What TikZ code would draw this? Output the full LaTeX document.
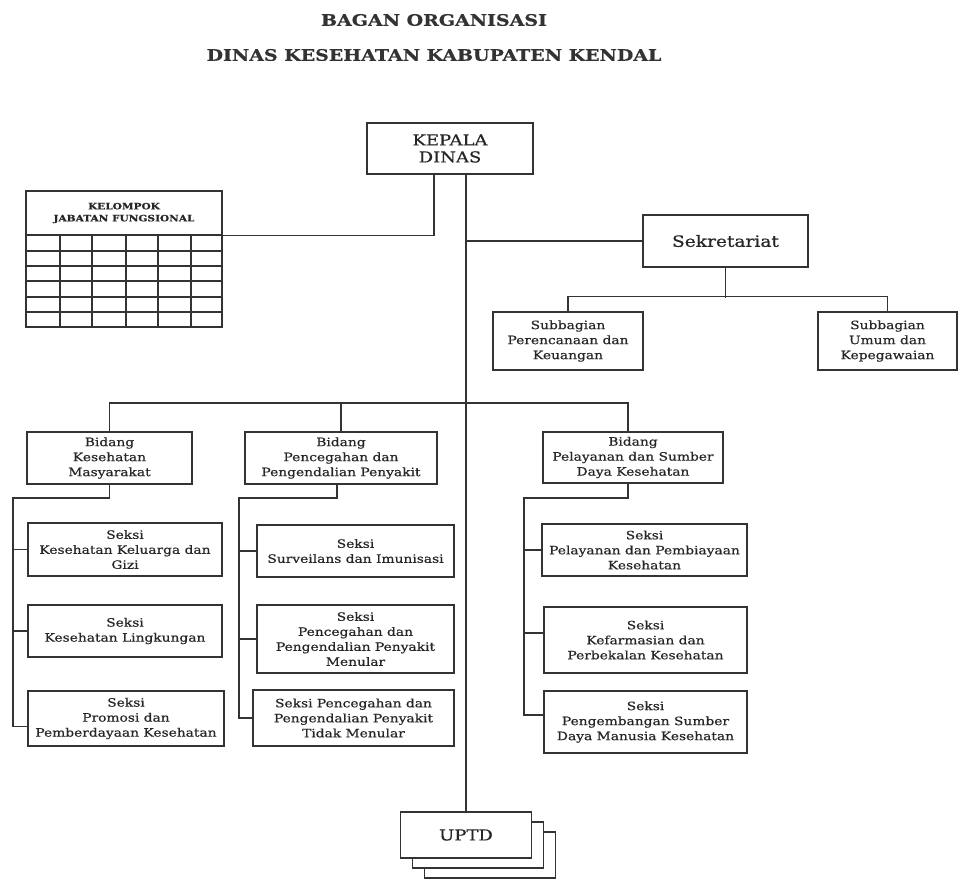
\documentclass[tikz,border=0pt]{standalone}
\usepackage{fontspec}
\setmainfont{DejaVu Serif}[FakeStretch=1.2,FakeBold=0.6]
\begin{document}
\begin{tikzpicture}[x=1pt,y=-1pt,
  ln/.style={draw=black!80,line width=1.2pt},
  box/.style={ln,rectangle,inner sep=0pt,align=center,text=black!85,fill=white,
     font=\fontsize{11.5}{15}\selectfont},
  bigbox/.style={box,font=\fontsize{15}{17}\selectfont},
  ttl/.style={inner sep=0pt,text=black!80,font=\bfseries\fontsize{15.8}{17}\selectfont}
]
\useasboundingbox (0,0) rectangle (958,879);
% title
\node[ttl] (t1) at (434,20) {BAGAN ORGANISASI};
\node[ttl] (t2) at (434,55) {DINAS KESEHATAN KABUPATEN KENDAL};

% main boxes
\node[bigbox,minimum width=166,minimum height=51] (kepala) at (450,148.5) {KEPALA\\DINAS};
\node[box,minimum width=196,minimum height=44,font=\bfseries\fontsize{8.8}{12}\selectfont] (kel) at (124,213) {KELOMPOK\\JABATAN FUNGSIONAL};
% table grid
\draw[ln] (26,235) rectangle (222,327);
\foreach \cx in {60,92,126,158,191} \draw[ln] (\cx,235) -- (\cx,327);
\foreach \ry in {251,266,281,297,312} \draw[ln] (26,\ry) -- (222,\ry);

\node[box,minimum width=165,minimum height=52,font=\fontsize{15.5}{17}\selectfont] (sek) at (725.5,241) {Sekretariat};
\node[box,minimum width=150,minimum height=58] (sub1) at (568,341) {Subbagian\\Perencanaan dan\\Keuangan};
\node[box,minimum width=139,minimum height=58] (sub2) at (887.5,341) {Subbagian\\Umum dan\\Kepegawaian};

\node[box,minimum width=165,minimum height=52] (bid1) at (109.5,458) {Bidang\\Kesehatan\\Masyarakat};
\node[box,minimum width=192,minimum height=52] (bid2) at (341,458) {Bidang\\Pencegahan dan\\Pengendalian Penyakit};
\node[box,minimum width=180,minimum height=51] (bid3) at (633,457.5) {Bidang\\Pelayanan dan Sumber\\Daya Kesehatan};

\node[box,minimum width=194,minimum height=53] (s11) at (125,549.5) {Seksi\\Kesehatan Keluarga dan\\Gizi};
\node[box,minimum width=194,minimum height=52] (s12) at (125,631) {Seksi\\Kesehatan Lingkungan};
\node[box,minimum width=196,minimum height=55] (s13) at (126,718.5) {Seksi\\Promosi dan\\Pemberdayaan Kesehatan};

\node[box,minimum width=197,minimum height=52] (s21) at (355.5,551) {Seksi\\Surveilans dan Imunisasi};
\node[box,minimum width=197,minimum height=68] (s22) at (355.5,639) {Seksi\\Pencegahan dan\\Pengendalian Penyakit\\Menular};
\node[box,minimum width=201,minimum height=56] (s23) at (353.5,718) {Seksi Pencegahan dan\\Pengendalian Penyakit\\Tidak Menular};

\node[box,minimum width=205,minimum height=52] (s31) at (644.5,550) {Seksi\\Pelayanan dan Pembiayaan\\Kesehatan};
\node[box,minimum width=203,minimum height=66] (s32) at (645.5,640) {Seksi\\Kefarmasian dan\\Perbekalan Kesehatan};
\node[box,minimum width=203,minimum height=62] (s33) at (645.5,722) {Seksi\\Pengembangan Sumber\\Daya Manusia Kesehatan};

% UPTD stack
\node[box,minimum width=131,minimum height=46] (uptd3) at (490,855) {};
\node[box,minimum width=131,minimum height=46] (uptd2) at (478,845) {};
\node[bigbox,minimum width=131,minimum height=46] (uptd) at (466,835) {UPTD};

% connectors
\coordinate (top) at (kepala.south -| uptd.north);
\draw[ln] (top) -- (uptd.north);
\draw[ln] ([xshift=-16pt]kepala.south) |- (kel.south east);
\draw[ln] (sek.west) -- (sek.west -| uptd.north);
\draw[ln] (sek.south) -- ++(0,30);
\draw[ln] (sub1.north) -- ++(0,-15) -| (sub2.north);

\coordinate (by) at (0,403);
\draw[ln] (bid1.north) |- ([xshift=-5pt]bid3.north |- by) -- ([xshift=-5pt]bid3.north);
\draw[ln] (bid2.north) -- (bid2.north |- by);

\coordinate (sp1) at (13,498);
\coordinate (sp2) at (239,498);
\coordinate (sp3) at (524,498);
\draw[ln] (bid1.south) |- (sp1) |- ([yshift=-8pt]s13.west);
\draw[ln] (s11.west) -- (s11.west -| sp1);
\draw[ln] (s12.west) -- (s12.west -| sp1);
\draw[ln] ([xshift=-4pt]bid2.south) |- (sp2) |- (s23.west);
\draw[ln] (s21.west) -- (s21.west -| sp2);
\draw[ln] (s22.west) -- (s22.west -| sp2);
\draw[ln] ([xshift=-5pt]bid3.south) |- (sp3) |- ([yshift=7pt]s33.west);
\draw[ln] (s31.west) -- (s31.west -| sp3);
\draw[ln] ([yshift=7pt]s32.west) -- ([yshift=7pt]s32.west -| sp3);
\end{tikzpicture}
\end{document}
